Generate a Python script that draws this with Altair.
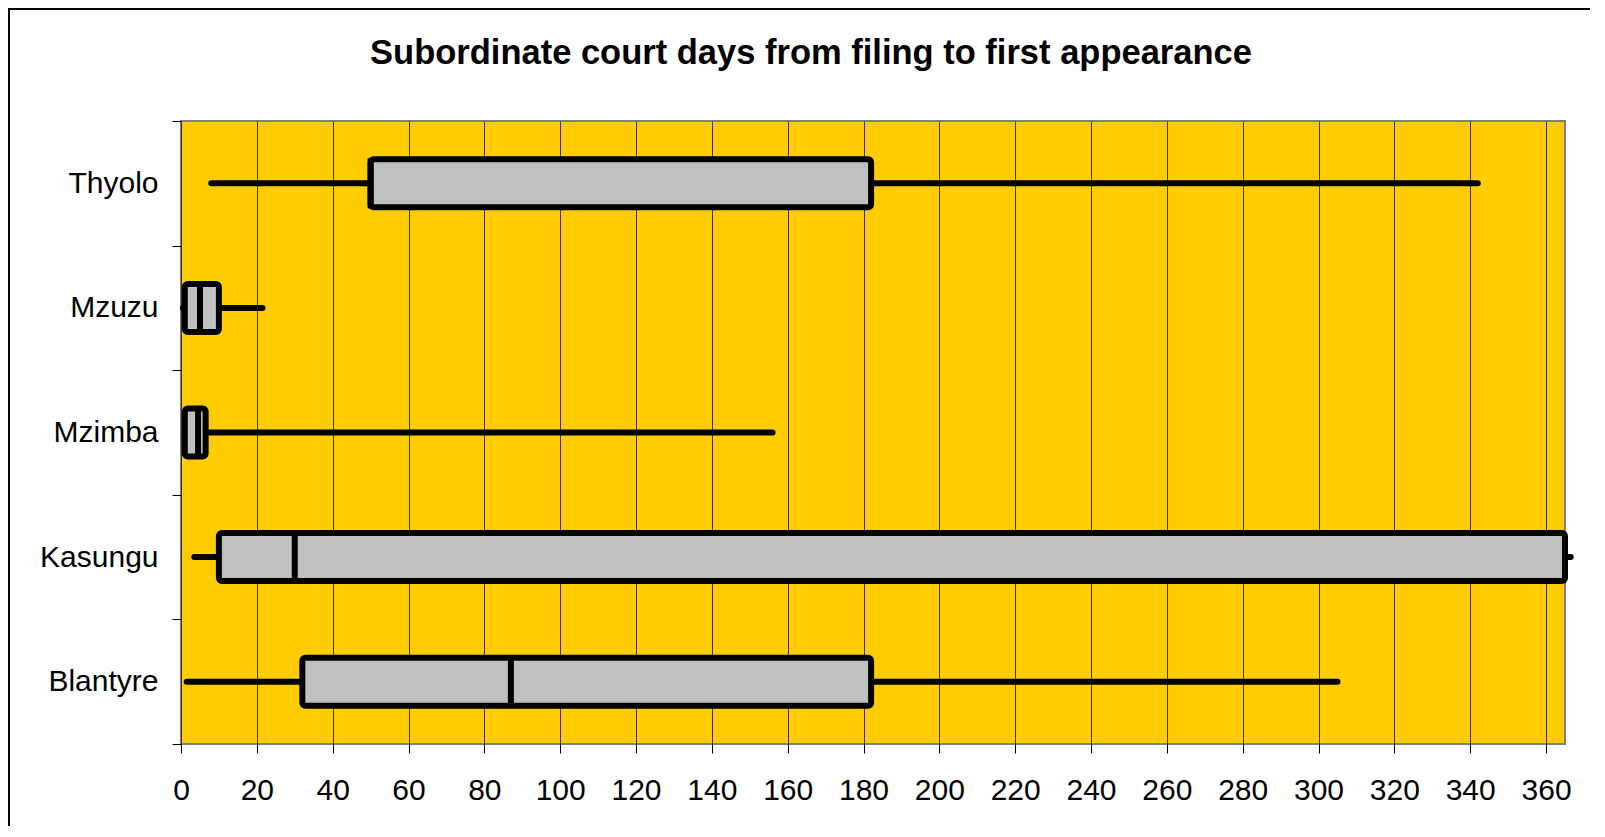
import altair as alt
import pandas as pd

courts = ["Thyolo", "Mzuzu", "Mzimba", "Kasungu", "Blantyre"]
mins = [8, 0.5, 1, 3.5, 1.5]
q1s = [50, 1, 1, 10, 32]
medians = [50, 5, 4.5, 30, 87]
q3s = [182, 10, 6.5, 365, 182]
maxs = [342, 21.5, 156, 366.5, 305]
x_ticks = list(range(0, 361, 20))
title_text = "Subordinate court days from filing to first appearance"

df = pd.DataFrame({"court": courts, "min": mins, "q1": q1s, "median": medians,
                   "q3": q3s, "max": maxs})

FONT = "Liberation Sans"
W, H = 1384, 623

xscale = alt.Scale(domain=[0, 365], nice=False, zero=False)
yscale = alt.Scale(domain=courts, paddingInner=0, paddingOuter=0)

xaxis = alt.Axis(values=x_ticks, title=None, labelFont=FONT, labelFontSize=30,
                 labelColor="black", tickSize=9, tickColor="#000", grid=True,
                 gridColor="#333333", gridWidth=1, domain=False, labelPadding=22,
                 labelFlush=False)
yaxis = alt.Axis(title=None, labelFont=FONT, labelFontSize=30, labelColor="black",
                 tickSize=9, tickColor="#000", tickBand="extent", domain=False,
                 grid=False, labelPadding=14)

base = alt.Chart(df)

whisk = base.mark_rule(strokeWidth=6, strokeCap="round", color="black").encode(
    y=alt.Y("court:N", scale=yscale, axis=yaxis, sort=courts),
    x=alt.X("min:Q", scale=xscale, axis=xaxis),
    x2="max:Q",
)

box = base.mark_bar(size=48, fill="#C0C0C0", stroke="black", strokeWidth=6,
                    cornerRadius=3, strokeJoin="round").encode(
    y=alt.Y("court:N", scale=yscale, sort=courts),
    x=alt.X("q1:Q", scale=xscale),
    x2="q3:Q",
)

med = base.mark_tick(thickness=6, size=50, color="black", opacity=1).encode(
    y=alt.Y("court:N", scale=yscale, sort=courts),
    x=alt.X("median:Q", scale=xscale),
)

one = pd.DataFrame({"t": [title_text]})

frame = alt.Chart(one).mark_rect(
    fillOpacity=0, stroke="black", strokeWidth=2).encode(
    x=alt.value(-172), x2=alt.value(1500), y=alt.value(-112), y2=alt.value(800))

title = alt.Chart(one).mark_text(
    font=FONT, fontSize=34.5, fontWeight="bold", color="black",
    align="center", baseline="middle").encode(
    text="t:N", x=alt.value(630), y=alt.value(-67))

chart = alt.layer(frame, whisk, box, med, title).properties(
    width=W, height=H,
    background="white",
    padding={"left": 173, "top": 113, "right": 25, "bottom": 82},
    autosize=alt.AutoSizeParams(type="none"),
).configure_view(
    fill="#FFCC00", stroke="#808080", strokeWidth=2
)

chart.save("out.html", embed_options={"renderer": "svg", "actions": False})
